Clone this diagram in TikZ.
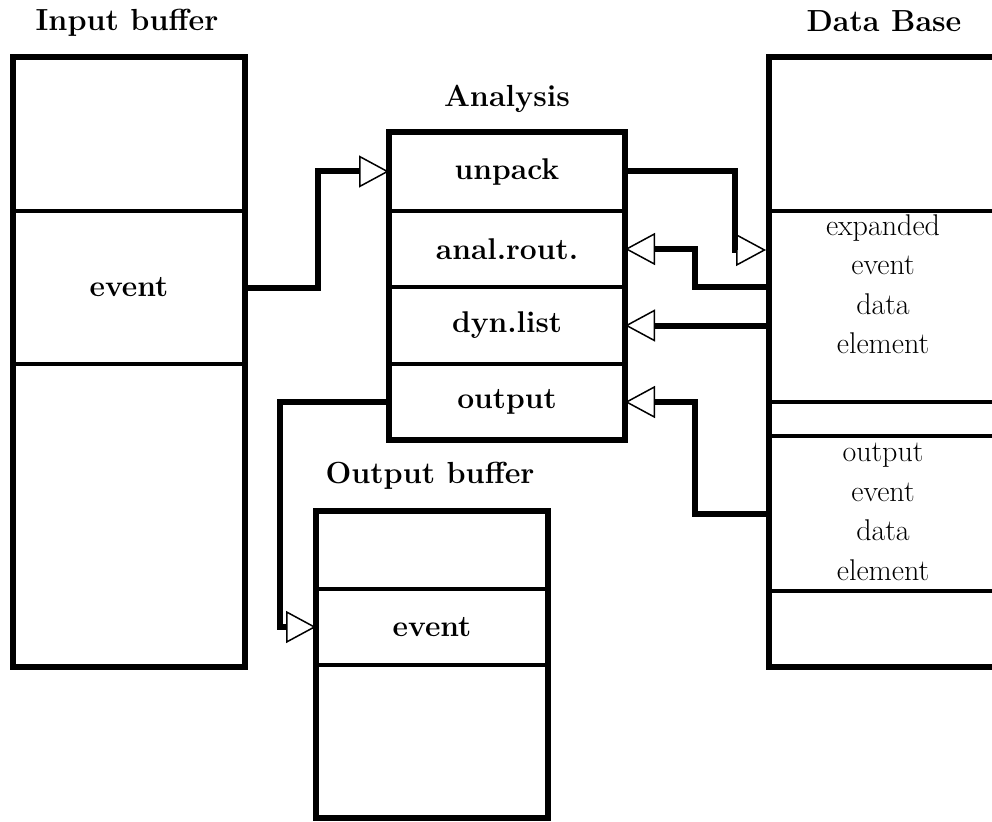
\documentclass[tikz,border=0pt]{standalone}
\usetikzlibrary{arrows.meta,calc}
\tikzset{
  cell/.style={draw, line width=4pt, inner sep=0pt, outer sep=0pt,
    font=\fontsize{30}{36}\selectfont\bfseries},
  frame/.style={line width=6pt},
  title/.style={inner sep=0pt, anchor=base,
    font=\fontsize{30.5}{36}\selectfont\bfseries},
  note/.style={inner sep=0pt, align=center,
    font=\fontsize{30}{39.5}\selectfont},
  conn/.style={line width=6pt,
    -{Triangle[open, length=30pt, width=32pt, line width=1.5pt]}},
}
\begin{document}
\begin{tikzpicture}[x=1pt, y=-1pt]
\clip (0,0) rectangle (992,821);

% Input buffer
\begin{scope}[every node/.append style={minimum width=232}]
\node[cell, minimum height=154] (ib1) at (129,134) {};
\node[cell, minimum height=153] (ib2) at (129,287.5) {event};
\node[cell, minimum height=303] (ib3) at (129,515.5) {};
\end{scope}
\draw[frame] (ib1.north west) rectangle (ib3.south east);
\node[title] (tin) at (127,31) {Input buffer};

% Analysis
\begin{scope}[every node/.append style={minimum width=236}]
\node[cell, minimum height=79] (an1) at (507,171.5) {unpack};
\node[cell, minimum height=76] (an2) at (507,249) {anal.rout.};
\node[cell, minimum height=77] (an3) at (507,325.5) {dyn.list};
\node[cell, minimum height=76] (an4) at (507,402) {output};
\end{scope}
\draw[frame] (an1.north west) rectangle (an4.south east);
\node[title] (tan) at (507,107) {Analysis};

% Data Base
\begin{scope}[every node/.append style={minimum width=232}]
\node[cell, minimum height=154] (db1) at (885,134) {};
\node[cell, minimum height=191] (db2) at (885,306.5) {};
\node[cell, minimum height=34]  (db3) at (885,419) {};
\node[cell, minimum height=155] (db4) at (885,513.5) {};
\node[cell, minimum height=76]  (db5) at (885,629) {};
\end{scope}
\draw[frame] (db1.north west) rectangle (db5.south east);
\node[note] (dbt1) at (883,284) {expanded\\event\\data\\element};
\node[note] (dbt2) at (883,512) {output\\event\\data\\element};
\node[title] (tdb) at (884,32) {Data Base};

% Output buffer
\begin{scope}[every node/.append style={minimum width=232}]
\node[cell, minimum height=78]  (ob1) at (432,550) {};
\node[cell, minimum height=76]  (ob2) at (432,627) {event};
\node[cell, minimum height=153] (ob3) at (432,741.5) {};
\end{scope}
\draw[frame] (ob1.north west) rectangle (ob3.south east);
\node[title] (tob) at (430,483) {Output buffer};

% connection points on the Data Base side
\coordinate (dbin) at (766,250);
\coordinate (dbrout) at (769,287);

% data flow
\draw[conn] (ib2.east) -- ++(73,0) |- (an1.west);
\draw[conn] (an1.east) -| ($(dbin)+(-31,0)$) -- (dbin);
\draw[conn] (dbrout) -- ++(-74,0) |- (an2.east);
\draw[conn] (db2.west |- an3.east) -- (an3.east);
\draw[conn] (db4.west) -- ++(-74,0) |- (an4.east);
\draw[conn] (an4.west) -- ++(-109,0) |- (ob2.west);
\end{tikzpicture}
\end{document}
